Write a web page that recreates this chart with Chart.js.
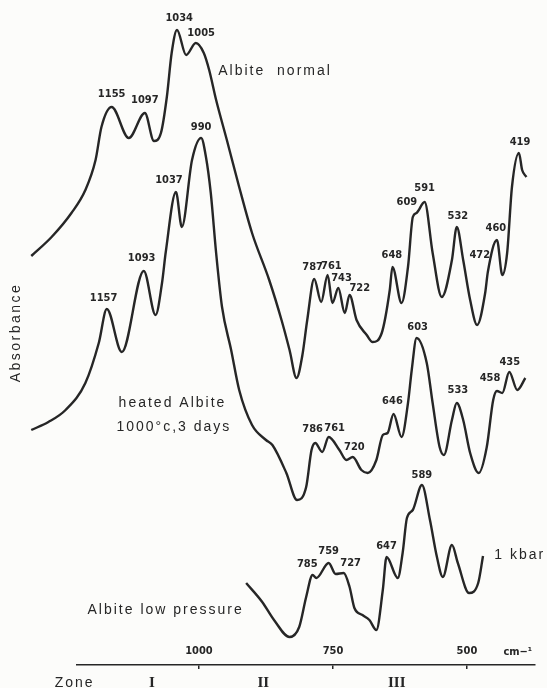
<!DOCTYPE html>
<html>
<head>
  <meta charset="utf-8" />
  <script src="https://cdn.jsdelivr.net/npm/chart.js@4.4.1/dist/chart.umd.min.js"></script>
  <style>
    body { margin: 0; background: #fcfcfa; }
    #wrap { width: 547px; height: 688px; }
  </style>
</head>
<body>
<div id="wrap"><canvas id="spec" width="547" height="688"></canvas></div>

<script>
/* ---------- Data (wavenumber cm-1, absorbance in arbitrary units) ---------- */
const wnNormal = [1313,1275,1238,1212,1193,1182,1163,1131,1101,1084,
  1071,1060,1051,1041,1024,1006,991,981,968,948,
  925,901,869,846,831,818,807,798,785,772,
  760,751,740,728,719,706,687,676,659,644,
  639,622,610,601,594,579,564,547,528,519,
  507,494,481,466,461,444,434,425,416,403,
  397,389];
const absNormal = [4.09,4.28,4.52,4.75,5.05,5.38,5.58,5.27,5.52,5.24,
  5.32,5.68,6.12,6.35,6.10,6.22,6.12,5.95,5.65,5.25,
  4.78,4.32,3.85,3.45,3.15,2.87,3.10,3.45,3.86,3.63,
  3.90,3.62,3.77,3.52,3.70,3.45,3.30,3.23,3.32,3.75,
  3.98,3.62,3.98,4.48,4.52,4.63,4.12,3.68,4.05,4.38,
  4.05,3.65,3.40,3.72,3.93,4.25,3.90,4.12,4.78,5.12,
  4.95,4.88];

const wnHeated = [1313,1281,1249,1212,1187,1172,1144,1103,1081,1069,
  1062,1043,1032,1013,996,987,978,968,957,940,
  925,901,875,863,837,817,800,790,783,770,
  758,738,725,713,697,685,669,657,648,637,
  622,610,603,594,575,564,551,543,528,519,
  507,494,478,463,451,444,434,421,406,391];
const absHeated = [2.35,2.43,2.55,2.82,3.22,3.56,3.13,3.94,3.50,3.82,
  4.13,4.73,4.38,5.05,5.27,5.08,4.72,4.12,3.58,3.15,
  2.75,2.40,2.25,2.20,1.92,1.65,1.78,2.15,2.22,2.13,
  2.28,2.15,2.05,2.08,1.95,1.92,2.05,2.30,2.32,2.51,
  2.28,2.62,2.95,3.27,3.02,2.62,2.18,2.10,2.45,2.62,
  2.45,2.12,1.92,2.18,2.65,2.74,2.72,2.93,2.75,2.87];

const wnLow = [912,882,860,831,813,800,788,781,758,745,
  730,719,710,695,682,669,657,650,629,620,
  612,601,584,569,556,545,528,517,496,479,
  470];
const absLow = [0.82,0.63,0.45,0.28,0.38,0.68,0.90,0.87,1.02,0.91,
  0.92,0.78,0.57,0.50,0.45,0.35,0.75,1.08,0.87,1.12,
  1.47,1.55,1.80,1.45,1.08,0.88,1.20,1.02,0.72,0.82,
  1.09];

const xTicks = [1000, 750, 500];
const zones = ['Zone', 'I', 'II', 'III'];
const zoneCentres = [1232, 1088, 880, 631];

// peak labels: [text, wavenumber, absorbance] of the label anchor
const peaksNormal = [['1155',1163,5.71],['1097',1101,5.65],['1034',1037,6.47],['1005',996,6.32],
  ['787',788,3.98],['761',753,3.99],['743',734,3.87],['722',700,3.77],['648',640,4.10],
  ['609',612,4.63],['591',579,4.77],['532',517,4.49],['472',476,4.10],['460',446,4.37],['419',401,5.23]];
const peaksHeated = [['1157',1178,3.67],['1093',1107,4.07],['1037',1056,4.85],['990',996,5.38],
  ['786',788,2.36],['761',747,2.37],['720',710,2.18],['646',639,2.64],['603',592,3.38],
  ['533',517,2.75],['458',457,2.87],['435',420,3.03]];
const peaksLow = [['785',798,1.01],['759',758,1.14],['727',717,1.02],['647',650,1.19],['589',584,1.90]];

// series captions: [text, wavenumber (left edge), absorbance]
const captions = [['Albite  normal',964,5.94],['heated Albite',1150,2.62],['1000°c,3 days',1154,2.38],
  ['Albite low pressure',1208,0.55],['1 kbar',449,1.10]];

/* ---------- Styles ---------- */
const INK = '#262626';
const NUM_FONT = "bold 11px 'Liberation Sans Narrow', 'DejaVu Sans Condensed', sans-serif";
const TXT_FONT = "14px 'Liberation Sans', Arial, sans-serif";

function series(wn, ab) {
  return {
    data: wn.map((v, i) => ({ x: v, y: ab[i] })),
    borderColor: INK, borderWidth: 2.4, pointRadius: 0,
    cubicInterpolationMode: 'monotone', clip: false, fill: false
  };
}

/* ---------- Text overlay ---------- */
const notes = {
  id: 'notes',
  beforeDraw(chart) { chart.ctx.letterSpacing = '2.5px'; },
  afterDatasetsDraw(chart) {
    const { ctx, scales: { x, y }, chartArea } = chart;
    ctx.save();
    ctx.fillStyle = INK;
    ctx.textBaseline = 'middle';

    ctx.font = NUM_FONT; ctx.letterSpacing = '0px'; ctx.textAlign = 'center';
    [peaksNormal, peaksHeated, peaksLow].forEach(list =>
      list.forEach(([t, v, a]) => ctx.fillText(t, x.getPixelForValue(v), y.getPixelForValue(a))));

    // tick labels sit above the axis line
    xTicks.forEach(v => ctx.fillText(String(v), x.getPixelForValue(v), chartArea.bottom - 14));
    ctx.textAlign = 'left';
    ctx.fillText('cm\u2212\u00b9', x.getPixelForValue(432), chartArea.bottom - 13);

    ctx.font = TXT_FONT; ctx.letterSpacing = '2px';
    captions.forEach(([t, v, a]) => ctx.fillText(t, x.getPixelForValue(v), y.getPixelForValue(a)));

    // zone row under the axis
    ctx.textAlign = 'center';
    zones.forEach((z, i) => {
      ctx.font = i === 0 ? TXT_FONT : "bold 15px 'Liberation Serif', 'DejaVu Serif', serif";
      ctx.letterSpacing = i === 0 ? '2px' : '0px';
      ctx.fillText(z, x.getPixelForValue(zoneCentres[i]), chartArea.bottom + 18);
    });
    ctx.restore();
  }
};

/* ---------- Chart ---------- */
new Chart(document.getElementById('spec'), {
  type: 'line',
  data: { datasets: [series(wnNormal, absNormal), series(wnHeated, absHeated), series(wnLow, absLow)] },
  options: {
    responsive: false, animation: false,
    layout: { padding: { left: 0, right: 12, top: 0, bottom: 19 } },
    plugins: { legend: { display: false }, tooltip: { enabled: false } },
    scales: {
      x: {
        type: 'linear', reverse: true, min: 373, max: 1228,
        afterBuildTicks: s => { s.ticks = xTicks.map(v => ({ value: v })); },
        ticks: { display: false },
        grid: { display: true, drawOnChartArea: false, drawTicks: true, tickLength: 4, color: INK, lineWidth: 1.5 },
        border: { display: true, color: INK, width: 1.6 }
      },
      y: {
        min: 0, max: 6.65,
        ticks: { display: false },
        grid: { display: false },
        border: { display: false },
        title: { display: true, text: 'Absorbance', color: INK,
          font: { family: "'Liberation Sans', Arial, sans-serif", size: 14 },
          padding: { top: 8, bottom: 44 } }
      }
    }
  },
  plugins: [notes]
});
</script>
</body>
</html>
